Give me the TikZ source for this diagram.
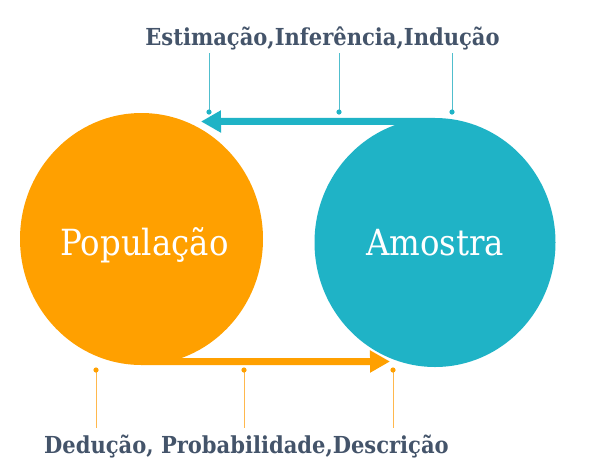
\documentclass[tikz,border=0pt]{standalone}
\usepackage{fontspec}
\usetikzlibrary{arrows.meta,shapes.geometric}
\newfontfamily\lblfont{DejaVu Serif Condensed}
\definecolor{popc}{RGB}{255,160,0}
\definecolor{amoc}{RGB}{31,179,198}
\definecolor{txtc}{RGB}{68,84,106}
\definecolor{popl}{RGB}{255,184,77}
\definecolor{amol}{RGB}{80,190,205}
\tikzset{
  blob/.style={ellipse, inner sep=0pt},
  bigtxt/.style={text=white, font=\lblfont\fontsize{36}{40}\selectfont, anchor=base, inner sep=0pt},
  captxt/.style={text=txtc, font=\lblfont\bfseries\fontsize{23.4}{26}\selectfont, anchor=base, inner sep=0pt},
  bigarrow/.style={line width=7pt, -{Triangle[length=20pt,width=21pt]}},
  leader/.style={line width=0.9pt},
}
\begin{document}
\begin{tikzpicture}[x=1pt,y=-1pt]
\useasboundingbox (0,0) rectangle (592,467);
% circles
\node[blob, minimum width=243pt, minimum height=252pt, fill=popc] (pop) at (141.5,239) {};
\node[blob, minimum width=241pt, minimum height=249pt, fill=amoc] (amo) at (435,242.5) {};
\node[bigtxt] (poptxt) at (144.5,255) {População};
\node[bigtxt] (amotxt) at (435,255.5) {Amostra};
% arrows
\coordinate (tipA) at (201,121.5);
\coordinate (tipB) at (390,361.5);
\draw[amoc, bigarrow] ([yshift=-3.5pt]amo.north) -- (tipA);
\draw[popc, bigarrow] ([yshift=3.5pt]pop.south) -- (tipB);
% captions
\node[captxt] (top) at (322.5,45) {Estimação,Inferência,Indução};
\node[captxt] (bot) at (246.5,453) {Dedução, Probabilidade,Descrição};
% top leaders
\foreach \i/\x in {1/209,2/339,3/452}{
  \coordinate (ta\i) at (\x,53);
  \coordinate (tb\i) at (\x,112);
  \draw[amol, leader] (ta\i) -- (tb\i);
  \fill[amoc] (tb\i) circle (2.6pt);
}
% bottom leaders
\foreach \i/\x in {1/96,2/244,3/393}{
  \coordinate (ba\i) at (\x,370);
  \coordinate (bb\i) at (\x,428);
  \draw[popl, leader] (ba\i) -- (bb\i);
  \fill[popc] (ba\i) circle (2.6pt);
}
\end{tikzpicture}
\end{document}
